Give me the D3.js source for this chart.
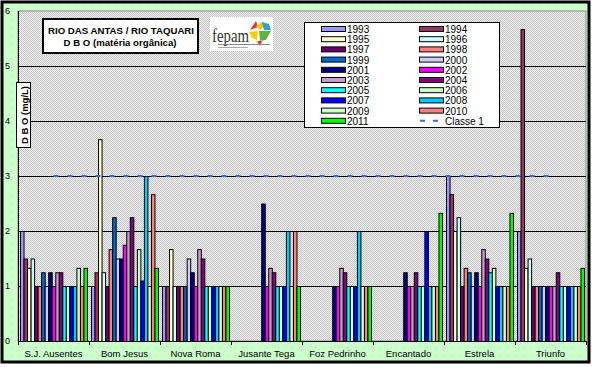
<!DOCTYPE html>
<html><head><meta charset="utf-8">
<script src="https://cdn.jsdelivr.net/npm/d3@7"></script>
<style>html,body{margin:0;padding:0;background:#fff}svg{display:block}</style>
</head><body>
<script>
const categories = ["S.J. Ausentes","Bom Jesus","Nova Roma","Jusante Tega","Foz Pedrinho","Encantado","Estrela","Triunfo"];
const years = ["1993","1994","1995","1996","1997","1998","1999","2000","2001","2002","2003","2004","2005","2006","2007","2008","2009","2010","2011"];
const colors = ["#9999ff","#993366","#ffffcc","#ccffff","#660066","#ff8080","#0066cc","#ccccff","#000080","#ff00ff","#cc99cc","#800080","#00ffff","#ccffcc","#0000ff","#00ccff","#ccffcc","#ff8080","#00ff00"];
// values per location, in the order of years (null = no data)
const sjAusentes  = [2, 1.5, 1.33, 1.5, 1, 1, 1.25, 1, 1.25, 1, 1.25, 1.25, 1, 1, 1, 1, 1.33, 1, 1.33];
const bomJesus    = [1, 1.25, 3.67, 1.25, 1, 1.67, 2.25, 1.5, 1.5, 1.75, 2, 2.25, 1, 1.67, 1.1, 3, 1, 2.67, 1.33];
const novaRoma    = [1, 1, 1.67, 1, 1, 1, 1, 1.5, 1.25, 1, 1.67, 1.5, 1, 1, 1, 1, 1, 1, 1];
const jusanteTega = [null, null, null, null, null, null, null, null, 2.5, 1, 1.33, 1.25, 1, 1, 1, 2, 1, 2, 1];
const fozPedrinho = [null, null, null, null, null, null, null, null, 1, 1, 1.33, 1.25, 1, 1, 1, 2, 1, 1, 1];
const encantado   = [null, null, null, null, null, null, null, null, 1.25, 1, 1, 1.25, 1, 1, 2, 1, 1, 1, 2.33];
const estrela     = [3, 2.67, 2, 2.25, 1, 1.33, 1.25, 1, 1.25, 1, 1.67, 1.5, 1.25, 1.33, 1, 1, 1, 1, 2.33];
const triunfo     = [2, 5.67, 1.33, 1.5, 1, 1, 1, 1, 1, 1, 1, 1.25, 1, 1, 1, 1, 1, 1, 1.33];
const classe1     = [3, 3, 3, 3, 3, 3, 3, 3];
const yTicks = [0, 1, 2, 3, 4, 5, 6];

const table = [sjAusentes, bomJesus, novaRoma, jusanteTega, fozPedrinho, encantado, estrela, triunfo];

const W = 592, H = 367;
const svg = d3.select("body").append("svg").attr("width", W).attr("height", H);
const defs = svg.append("defs");
const pg = defs.append("pattern").attr("id","plotpat").attr("width",2).attr("height",2).attr("patternUnits","userSpaceOnUse");
pg.append("rect").attr("width",2).attr("height",2).attr("fill","#f0f0f0");
pg.append("rect").attr("width",1).attr("height",1).attr("fill","#c4c4c4");
pg.append("rect").attr("x",1).attr("y",1).attr("width",1).attr("height",1).attr("fill","#c4c4c4");
const gp = defs.append("pattern").attr("id","greenpat").attr("width",8).attr("height",8).attr("patternUnits","userSpaceOnUse");
gp.append("rect").attr("width",8).attr("height",8).attr("fill","#ccffcc");
gp.append("rect").attr("x",3).attr("y",3).attr("width",1).attr("height",1).attr("fill","#a8dca8");

// outer background + border
svg.append("rect").attr("x",2).attr("y",2).attr("width",587).attr("height",360)
  .attr("fill","url(#greenpat)").attr("stroke","#000").attr("stroke-width",3);

const pLeft = 18, pRight = 586, pTop = 11, pBottom = 341;
const x0 = d3.scaleBand().domain(categories).range([pLeft, pRight]).padding(0);
const x1 = d3.scaleBand().domain(years).range([2, x0.bandwidth() - 2]).padding(0);
const y = d3.scaleLinear().domain([0, 6]).range([pBottom, pTop]);

svg.append("rect").attr("x",pLeft).attr("y",pTop).attr("width",pRight-pLeft).attr("height",pBottom-pTop)
  .attr("fill","url(#plotpat)").attr("stroke","#888").attr("stroke-width",1);

// gridlines
svg.append("g").selectAll("line").data(yTicks.filter(t => t > 0 && t < 6)).join("line")
  .attr("x1",pLeft).attr("x2",pRight).attr("y1",d=>y(d)+0.5).attr("y2",d=>y(d)+0.5)
  .attr("stroke","#000").attr("stroke-width",1);

// bars
const gCat = svg.append("g").selectAll("g").data(categories).join("g")
  .attr("transform", d => `translate(${x0(d)},0)`);
gCat.selectAll("rect").data((c,i) => years.map((yr,j) => ({yr, j, v: table[i][j]})).filter(d => d.v != null))
  .join("rect")
  .attr("x", d => x1(d.yr) + 0.5)
  .attr("width", x1.bandwidth())
  .attr("y", d => y(d.v) + 0.5)
  .attr("height", d => y(0) - y(d.v))
  .attr("fill", d => colors[d.j])
  .attr("stroke", "#000").attr("stroke-width", 1);

// classe 1 line
const line = d3.line().x((d,i) => x0(categories[i]) + x0.bandwidth()/2).y(d => y(d));
svg.append("path").datum(classe1).attr("d", line).attr("fill","none")
  .attr("stroke","#3366ff").attr("stroke-width",2.2).attr("stroke-dasharray","5,9");

// axes
svg.append("line").attr("x1",pLeft+0.5).attr("x2",pLeft+0.5).attr("y1",pTop).attr("y2",pBottom).attr("stroke","#000");
svg.append("line").attr("x1",pLeft).attr("x2",pRight).attr("y1",pBottom+0.5).attr("y2",pBottom+0.5).attr("stroke","#000");
svg.append("g").selectAll("line").data(categories.concat(["end"])).join("line")
  .attr("x1",(d,i)=> (i < categories.length ? x0(d) : pRight) + 0.5)
  .attr("x2",(d,i)=> (i < categories.length ? x0(d) : pRight) + 0.5)
  .attr("y1",pBottom).attr("y2",pBottom+4).attr("stroke","#000");
svg.append("g").selectAll("text").data(yTicks).join("text")
  .attr("x",5).attr("y",d=>y(d)+3).text(d=>d)
  .attr("font-family","Liberation Sans, Arial, sans-serif").attr("font-size",9).attr("fill","#000");
svg.append("g").selectAll("text").data(categories).join("text")
  .attr("x",d=>x0(d)+x0.bandwidth()/2).attr("y",357).attr("text-anchor","middle").text(d=>d)
  .attr("font-family","Liberation Sans, Arial, sans-serif").attr("font-size",9.5).attr("fill","#000");

// y axis title box
svg.append("rect").attr("x",16.5).attr("y",82.5).attr("width",14).attr("height",65).attr("fill","#fff").attr("stroke","#000");
svg.append("text").attr("transform","translate(27.5,115) rotate(-90)").attr("text-anchor","middle")
  .attr("font-family","Liberation Sans, Arial, sans-serif").attr("font-size",9.5).attr("font-weight","bold")
  .attr("textLength",58).attr("lengthAdjust","spacing")
  .text("D B O  (mg/L)");

// title box
svg.append("rect").attr("x",43).attr("y",19).attr("width",155).attr("height",34).attr("fill","#fff").attr("stroke","#000").attr("stroke-width",2);
svg.append("text").attr("x",121).attr("y",34).attr("text-anchor","middle")
  .attr("font-family","Liberation Sans, Arial, sans-serif").attr("font-size",9).attr("font-weight","bold")
  .attr("textLength",146).attr("lengthAdjust","spacingAndGlyphs").text("RIO DAS ANTAS / RIO TAQUARI");
svg.append("text").attr("x",120).attr("y",46).attr("text-anchor","middle")
  .attr("font-family","Liberation Sans, Arial, sans-serif").attr("font-size",9).attr("font-weight","bold")
  .attr("textLength",113).attr("lengthAdjust","spacingAndGlyphs").text("D B O (matéria orgânica)");

// logo
const logo = svg.append("g");
logo.append("rect").attr("x",210).attr("y",17).attr("width",63).attr("height",34).attr("fill","#fff");
logo.append("text").attr("x",212).attr("y",42).attr("font-family","Liberation Serif, serif").attr("font-size",18)
  .attr("fill","#333").attr("textLength",37).attr("lengthAdjust","spacingAndGlyphs").text("fepam");
logo.append("path").attr("d","M250,30 L256,21 L258,27 Z").attr("fill","#e8322b");
logo.append("path").attr("d","M256,26 L262,22 L266,25 L260,30 Z").attr("fill","#f5c400");
logo.append("path").attr("d","M262,22 L269,24 L271,30 L264,30 Z").attr("fill","#2a9fd8");
logo.append("path").attr("d","M249,32 L258,31 L257,40 L252,38 Z").attr("fill","#f0d000");
logo.append("path").attr("d","M259,31 L271,31 L266,40 L260,41 Z").attr("fill","#5db546");
logo.append("path").attr("d","M257,41 L262,41 L260,46 Z").attr("fill","#e8322b");
logo.append("rect").attr("x",218).attr("y",44).attr("width",52).attr("height",1).attr("fill","#888");
logo.append("rect").attr("x",218).attr("y",47).attr("width",30).attr("height",1).attr("fill","#aaa");

// legend
const lg = svg.append("g");
lg.append("rect").attr("x",304.5).attr("y",22.5).attr("width",195).attr("height",105).attr("fill","#fff").attr("stroke","#000");
const legendItems = years.map((yr,j) => ({label: yr, color: colors[j], type: "bar"}));
legendItems.push({label: "Classe 1", type: "line"});
legendItems.forEach((d,i) => {
  const col = i % 2, row = Math.floor(i / 2);
  const sx = col === 0 ? 321 : 419, cy = 29 + row * 10.2;
  if (d.type === "bar") {
    lg.append("rect").attr("x",sx+0.5).attr("y",cy-3+0.5).attr("width",24).attr("height",5)
      .attr("fill",d.color).attr("stroke","#000");
    lg.append("text").attr("x",sx+26).attr("y",cy+4).text(d.label)
      .attr("font-family","Liberation Sans, Arial, sans-serif").attr("font-size",10).attr("fill","#000");
  } else {
    lg.append("line").attr("x1",sx).attr("x2",sx+24).attr("y1",cy).attr("y2",cy)
      .attr("stroke","#3366ff").attr("stroke-width",2).attr("stroke-dasharray","5,8").attr("stroke-dashoffset",-1);
    lg.append("text").attr("x",sx+26).attr("y",cy+4).text(d.label)
      .attr("font-family","Liberation Sans, Arial, sans-serif").attr("font-size",10).attr("fill","#000");
  }
});
</script>
</body></html>
